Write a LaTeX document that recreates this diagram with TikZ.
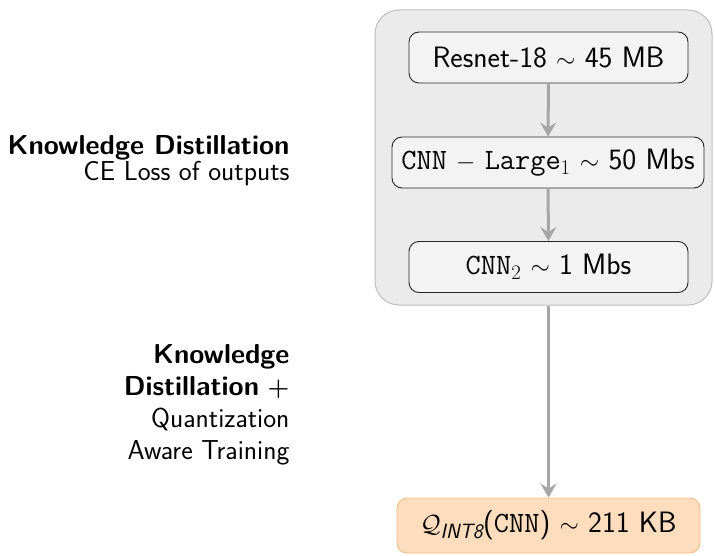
\documentclass[tikz,border=0pt]{standalone}
\usepackage{amsmath}
\usetikzlibrary{arrows.meta}
\definecolor{panelfill}{HTML}{EBEBEB}
\definecolor{paneldraw}{HTML}{BEBEBE}
\definecolor{boxfill}{HTML}{F3F3F3}
\definecolor{flowgray}{HTML}{A6A6A6}
\definecolor{quantfill}{HTML}{FDDDBD}
\definecolor{quantdraw}{HTML}{F3BE8A}
\tikzset{
  modelbox/.style={draw=black!85, fill=boxfill, rounded corners=10pt, line width=0.9pt,
    minimum height=51pt, inner xsep=4pt, font=\fontsize{29.5}{34}\selectfont\sffamily},
  quantbox/.style={modelbox, draw=quantdraw, fill=quantfill, minimum height=55pt},
  flow/.style={draw=flowgray, line width=3pt, -{Stealth[length=14pt,width=16pt,inset=5pt]}},
  sidelabel/.style={align=right, anchor=east, font=\fontsize{27.4}{32}\selectfont\sffamily}
}
\begin{document}
\begin{tikzpicture}[x=1pt,y=-1pt]
\useasboundingbox (0,0) rectangle (715,556);
% grey panel around the distillation chain
\node[draw=paneldraw, fill=panelfill, rounded corners=24pt, line width=1pt,
      minimum width=337pt, minimum height=295pt] (panel) at (543.5,157.5) {};
% model nodes
\node[modelbox, minimum width=279pt] (resnet) at (548.5,57.5) {Resnet-18 $\sim$ 45 MB};
\node[modelbox, minimum width=312pt] (large) at (548,162.5) {\texttt{CNN} $-$ \texttt{Large}$_1$ $\sim$ 50 Mbs};
\node[modelbox, minimum width=279pt] (small) at (548.5,267) {\texttt{CNN}$_2$ $\sim$ 1 Mbs};
\node[quantbox, minimum width=303pt] (quant) at (548.5,525.5)
  {$\mathcal{Q}_{\text{\sffamily\itshape INT8}}$(\texttt{CNN}) $\sim$ 211 KB};
% connectors
\draw[flow] (resnet) -- (large);
\draw[flow] (large) -- (small);
\draw[flow] (panel.south -| small) -- (quant);
% side annotations
\node[sidelabel] (kd) at (293,161) {\textbf{Knowledge Distillation}\\[-6pt]CE Loss of outputs};
\node[sidelabel] (qat) at (293,405) {\textbf{Knowledge}\\\textbf{Distillation} $\boldsymbol{+}$\\Quantization\\Aware Training};
\end{tikzpicture}
\end{document}
